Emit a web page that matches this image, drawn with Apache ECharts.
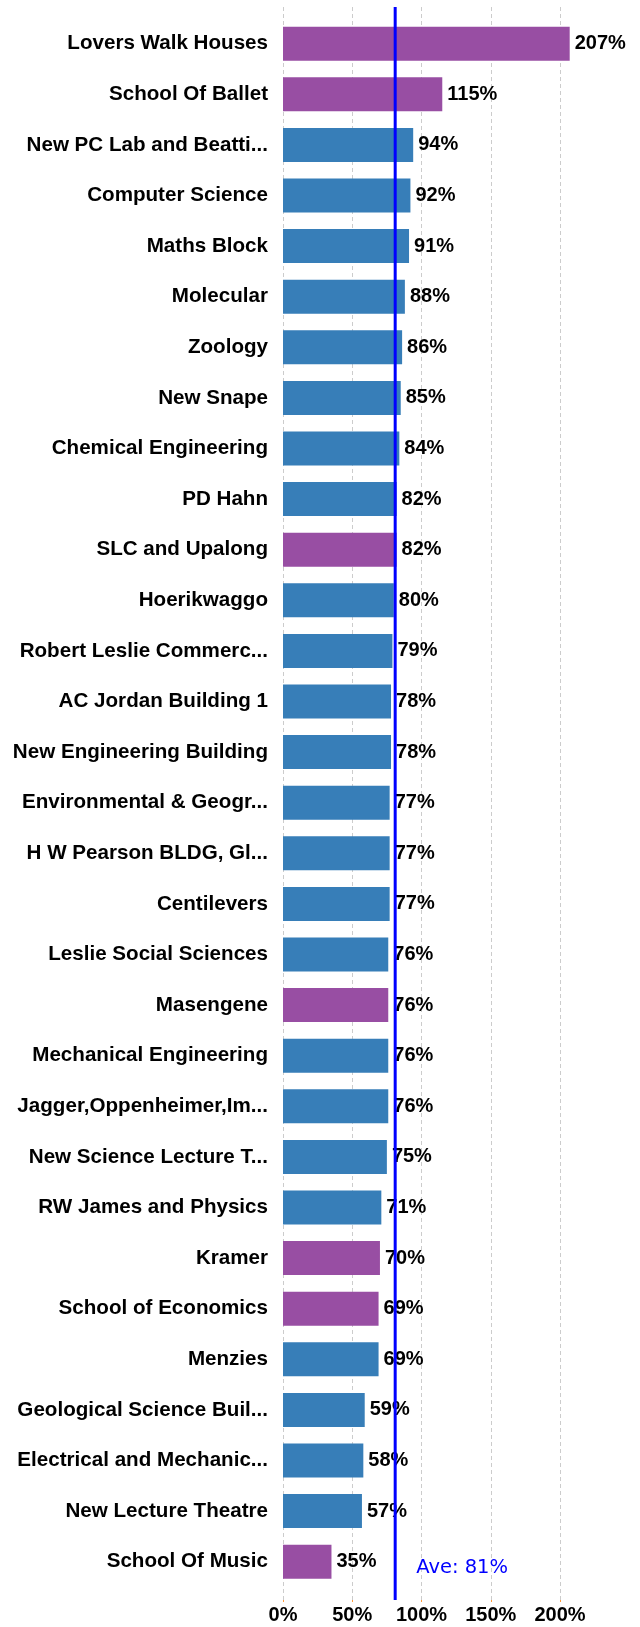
<!DOCTYPE html>
<html>
<head>
<meta charset="utf-8">
<title>Building usage</title>
<script src="https://cdn.jsdelivr.net/npm/echarts@6/dist/echarts.min.js"></script>
<style>
  html, body { margin: 0; padding: 0; background: #fff; }
</style>
</head>
<body>
<div id="chart" style="width: 640px; height: 1627px"></div>
<script>
const buildings = [
  'Lovers Walk Houses', 'School Of Ballet', 'New PC Lab and Beatti...', 'Computer Science',
  'Maths Block', 'Molecular', 'Zoology', 'New Snape', 'Chemical Engineering', 'PD Hahn',
  'SLC and Upalong', 'Hoerikwaggo', 'Robert Leslie Commerc...', 'AC Jordan Building 1',
  'New Engineering Building', 'Environmental & Geogr...', 'H W Pearson BLDG, Gl...', 'Centilevers',
  'Leslie Social Sciences', 'Masengene', 'Mechanical Engineering', 'Jagger,Oppenheimer,Im...',
  'New Science Lecture T...', 'RW James and Physics', 'Kramer', 'School of Economics', 'Menzies',
  'Geological Science Buil...', 'Electrical and Mechanic...', 'New Lecture Theatre', 'School Of Music'
]
const usage = [
  207, 115, 94, 92, 91, 88, 86, 85, 84, 82,
  82, 80, 79, 78, 78, 77, 77, 77, 76, 76,
  76, 76, 75, 71, 70, 69, 69, 59, 58, 57, 35
]
// 1 = residence (purple), 0 = academic (blue)
const residence = [
  1, 1, 0, 0, 0, 0, 0, 0, 0, 0,
  1, 0, 0, 0, 0, 0, 0, 0, 0, 1,
  0, 0, 0, 0, 1, 1, 0, 0, 0, 0, 1
]
const average = 81
const xTicks = [0, 50, 100, 150, 200]

const chart = echarts.init(document.getElementById('chart'))

const labelFont = {
  fontFamily: '"Liberation Sans", Arial, sans-serif',
  fontWeight: 'bold',
  fontSize: 20,
  color: '#000',
}

const option = {
  animation: false,
  grid: [
    // bars
    { left: 283, right: 52.3, top: 18.4, bottom: 40 },
    // gridlines, axis labels, average line
    { left: 283, right: 52.3, top: 7, bottom: 27 },
  ],
  xAxis: [
    {
      gridIndex: 0,
      type: 'value',
      min: 0,
      max: 220,
      interval: 50,
      show: false,
    },
    {
      gridIndex: 1,
      type: 'value',
      min: xTicks[0],
      max: 220,
      interval: 50,
      axisLine: { show: false },
      axisTick: { show: true, length: 2, lineStyle: { color: '#ff9a3c' } },
      axisLabel: {
        ...labelFont,
        margin: 5,
        showMaxLabel: false,
        formatter: function (v) {
          return xTicks.indexOf(v) >= 0 ? v + '%' : ''
        },
      },
      splitLine: {
        show: true,
        showMaxLine: false,
        lineStyle: { color: '#cccccc', type: [4, 3], width: 1 },
      },
    },
  ],
  yAxis: [
    {
      gridIndex: 0,
      type: 'category',
      inverse: true,
      data: buildings,
      axisLine: { show: false },
      axisTick: { show: false },
      axisLabel: { ...labelFont, fontSize: 20.6, margin: 15, interval: 0 },
    },
    {
      gridIndex: 1,
      type: 'value',
      min: 0,
      max: 1,
      show: false,
    },
  ],
  series: [
    {
      type: 'bar',
      xAxisIndex: 0,
      yAxisIndex: 0,
      barWidth: 34,
      data: usage.map(function (v, i) {
        return {
          value: v,
          itemStyle: { color: residence[i] ? '#984ea3' : '#377eb8' },
        }
      }),
      label: {
        show: true,
        position: 'right',
        distance: 5,
        ...labelFont,
        formatter: '{c}%',
      },
      z: 2,
    },
    {
      type: 'line',
      xAxisIndex: 1,
      yAxisIndex: 1,
      symbol: 'circle',
      symbolSize: 0,
      lineStyle: { color: '#0000ff', width: 3 },
      itemStyle: { color: '#0000ff' },
      data: [
        {
          value: [average, 0],
          label: {
            show: true,
            position: 'right',
            distance: 5,
            offset: [16, -32],
            formatter: 'Ave: ' + average + '%',
            fontFamily: '"DejaVu Sans", Verdana, sans-serif',
            fontSize: 19.5,
            color: '#0000ff',
          },
        },
        [average, 1],
      ],
      z: 5,
    },
  ],
}

chart.setOption(option)
</script>
</body>
</html>
